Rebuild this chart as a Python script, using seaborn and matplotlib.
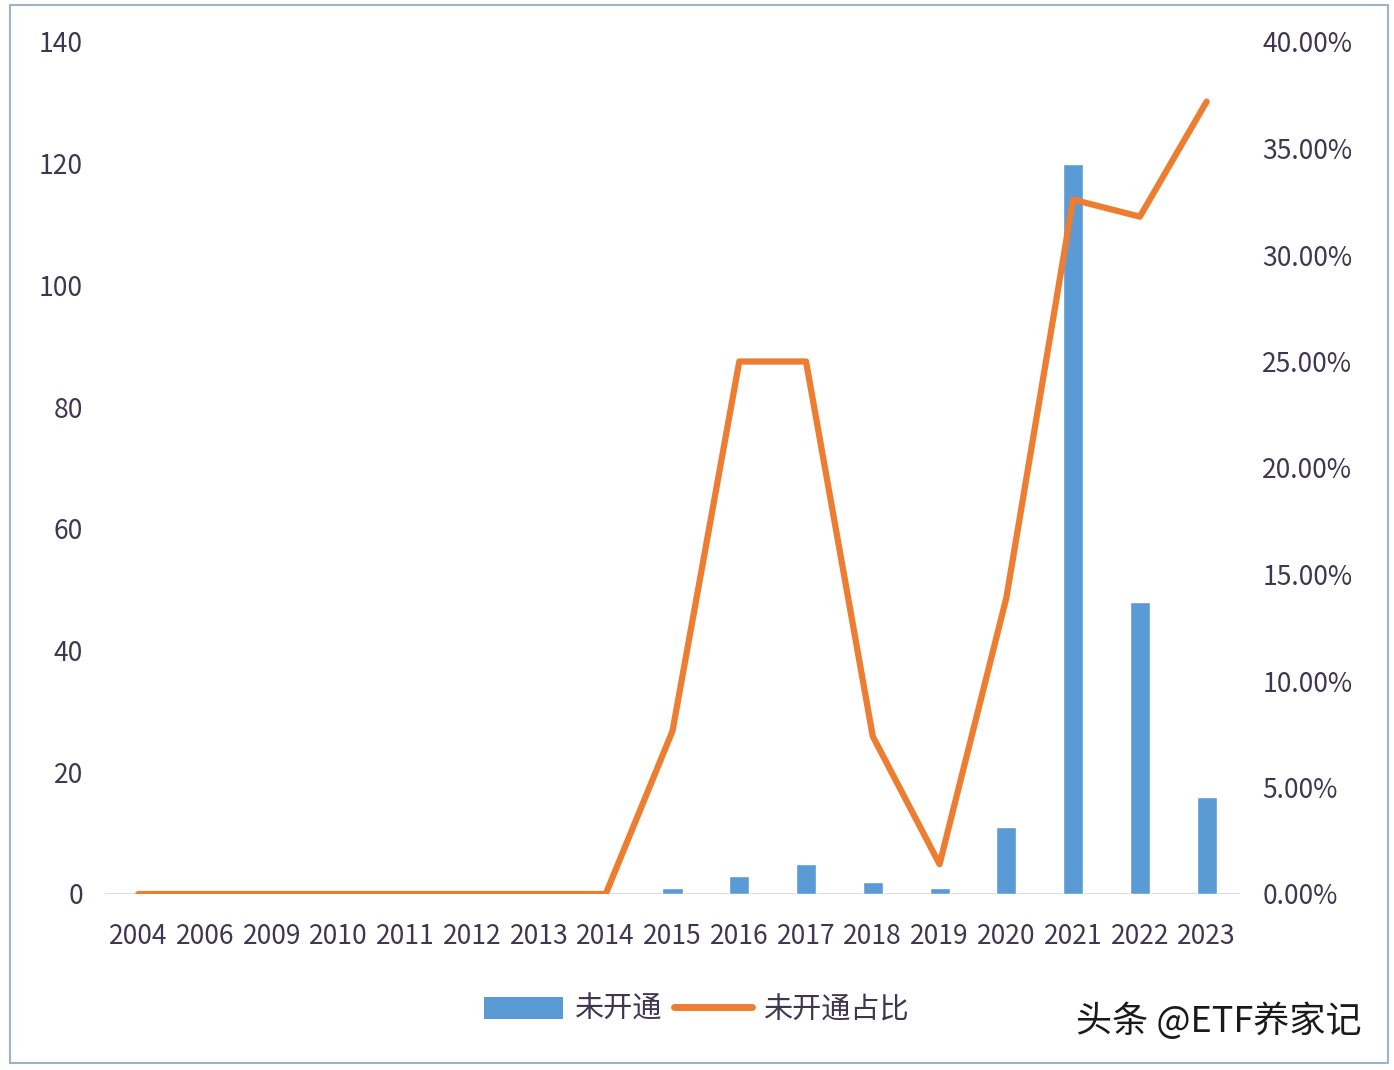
import numpy as np
import pandas as pd
import seaborn as sns
import matplotlib.pyplot as plt
from matplotlib.patches import Rectangle, Patch
from matplotlib.lines import Line2D
from matplotlib.ticker import FuncFormatter

sns.set_style('white')
plt.rcParams['font.family'] = ['Noto Sans CJK SC', 'DejaVu Sans']

years = ['2004', '2006', '2009', '2010', '2011', '2012', '2013', '2014', '2015',
         '2016', '2017', '2018', '2019', '2020', '2021', '2022', '2023']
not_open = [0, 0, 0, 0, 0, 0, 0, 0, 1, 3, 5, 2, 1, 11, 120, 48, 16]
not_open_pct = [0, 0, 0, 0, 0, 0, 0, 0, 7.65, 25.0, 25.0, 7.4, 1.4, 13.9, 32.6, 31.8, 37.2]

df = pd.DataFrame({'year': years, 'cnt': not_open, 'pct': not_open_pct})

bar_c = '#5B9BD5'
line_c = '#ED7D31'
txt_c = '#3d3750'

fig = plt.figure(figsize=(13.94, 10.70), dpi=100)
ax = fig.add_axes([105 / 1394, 1 - 894 / 1070, (1240 - 105) / 1394, (894 - 42) / 1070])
ax2 = ax.twinx()

sns.barplot(data=df, x='year', y='cnt', color=bar_c, width=0.3, saturation=1, ax=ax)
sns.lineplot(data=df, x='year', y='pct', color=line_c, linewidth=4.5, sort=False, ax=ax2,
             solid_capstyle='round', solid_joinstyle='round')

ax.set_ylim(0, 140)
ax.set_yticks(range(0, 141, 20))
ax2.set_ylim(0, 40)
ax2.set_yticks(range(0, 41, 5))
ax2.yaxis.set_major_formatter(FuncFormatter(lambda v, p: f'{v:.2f}%'))
ax.set_xlim(-0.5, len(years) - 0.5)

for a in (ax, ax2):
    a.set_xlabel('')
    a.set_ylabel('')
    for s in a.spines.values():
        s.set_visible(False)
    a.tick_params(length=0, labelsize=19, colors=txt_c)
ax.tick_params(axis='y', pad=16)
ax2.tick_params(axis='y', pad=16)
ax.tick_params(axis='x', pad=21, labelsize=19)
ax.axhline(0, color='#d0d4dc', linewidth=1.2, zorder=0)
ax2.grid(False)
ax.grid(False)

handles = [Patch(facecolor=bar_c, edgecolor='none'),
           Line2D([0], [0], color=line_c, linewidth=5, solid_capstyle='round')]
fig.legend(handles, ['未开通', '未开通占比'], loc='center', bbox_to_anchor=(697 / 1394, 1 - 1010 / 1070),
           ncol=2, frameon=False, fontsize=21, labelcolor=txt_c, handlelength=2.7,
           handleheight=0.8, columnspacing=0.4, handletextpad=0.4)

fig.text(1362 / 1394, 1 - 1021 / 1070, '头条 @ETF养家记', ha='right', va='center',
         fontsize=26, color='#1a1a1a')

fig.patches.append(Rectangle((10 / 1394, 1 - 1063 / 1070), 1378 / 1394, 1058 / 1070,
                             transform=fig.transFigure, fill=False,
                             edgecolor='#9fb3c8', linewidth=1.5))

fig.savefig('out.png', dpi=100, facecolor='white')
